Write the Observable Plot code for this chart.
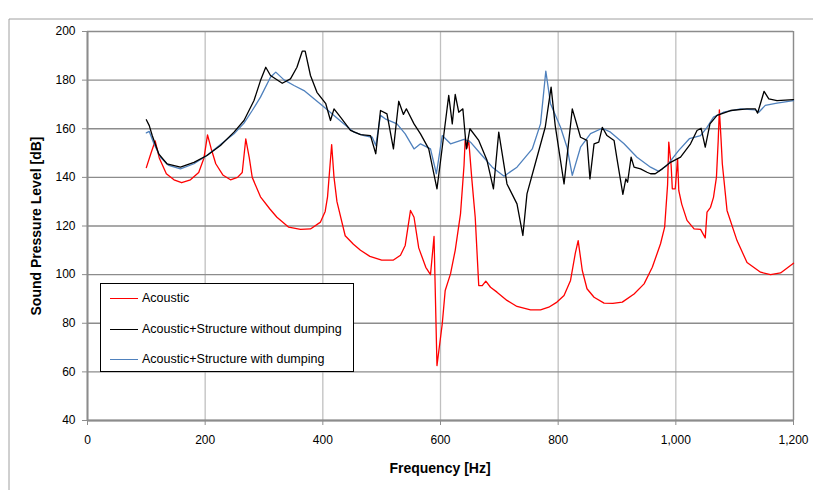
<!DOCTYPE html>
<html>
<head>
<meta charset="utf-8">
<script src="https://cdn.jsdelivr.net/npm/d3@7"></script>
<script src="https://cdn.jsdelivr.net/npm/@observablehq/plot@0.6"></script>
<style>
  html, body { margin: 0; padding: 0; background: #fff; }
  #wrap { position: relative; width: 813px; height: 490px; overflow: hidden; }
  #legend {
    position: absolute; left: 100px; top: 283px; width: 254px; height: 89px;
    border: 1px solid #000; background: #fff; box-sizing: border-box;
    font-family: "Liberation Sans Narrow", "Liberation Sans", Arial, sans-serif; font-size: 12.5px; color: #000;
  }
  .item { position: absolute; left: 9px; height: 16px; display: flex; align-items: center; white-space: nowrap; }
  .sw { width: 28px; height: 0; border-top: 1.5px solid; margin-right: 4px; }
</style>
</head>
<body>
<div id="wrap"></div>
<script>
const xTicks = [0, 200, 400, 600, 800, 1000, 1200];
const yTicks = [40, 60, 80, 100, 120, 140, 160, 180, 200];
const seriesNames = ["Acoustic", "Acoustic+Structure without dumping", "Acoustic+Structure with dumping"];
const seriesColors = ["#ff0000", "#000000", "#4f81bd"];

const acousticFreq = [100,108,115,122,134,147,160,175,189,198,204,210,218,230,243,255,263,269,275,280,294,310,322,342,362,379,396,404,408,415,419,424,438,452,464,480,500,520,532,540,549,555,563,575,583,589,594,603,608,617,625,634,640,642,645,648,653,657,659,665,671,677,685,696,713,730,753,770,784,798,810,821,829,834,841,849,861,878,893,909,929,946,960,974,981,986,988,992,994,999,1003,1005,1010,1019,1031,1042,1050,1053,1059,1064,1069,1072,1074,1077,1079,1087,1104,1121,1144,1161,1178,1200];
const acousticDb = [144,150,155,148,141.5,139,137.8,139,142,148,157.5,152,145.6,141,139,140,142,155.8,148,140,132,127,123.6,119.5,118.6,118.8,121.6,126,132,153.5,140,130,116,112.5,110,107.5,106,106,108,112,126.4,123.6,111,103,100,115.7,62.6,79.8,93.5,100.3,110,125,145,155.9,152,155.2,140,129,123.6,95.5,95.5,97.3,94.8,92.8,89.4,86.9,85.5,85.5,86.6,88.7,91.4,97.6,108.6,114,101.7,94.2,90.7,88.3,88.2,88.7,92,96.2,103,112.7,119.5,137,154.5,145,135.3,135.3,147.6,134.6,129,122.3,118.8,118.6,115.1,125.7,127.7,131.8,140,155,167.8,155,145.6,126.4,114,105,101,100,100.7,104.7];

const noDampFreq = [100,105,110,121,135,158,181,203,226,249,266,283,294,303,311,331,345,356,365,370,379,390,405,413,419,430,447,464,481,490,498,509,520,529,537,542,555,566,580,594,603,614,620,625,631,638,644,650,665,679,690,699,713,730,740,747,761,778,788,795,810,824,838,849,854,861,869,875,883,895,900,910,915,918,924,929,940,951,957,965,977,991,1008,1025,1036,1043,1050,1058,1070,1093,1121,1135,1139,1150,1158,1172,1200];
const noDampDb = [163.7,161.3,157.2,149.7,145.6,144.2,146.2,149,153.1,158.6,163.4,171.6,179.8,185.3,181.9,178.7,180.5,185.3,191.9,191.9,181.9,175,170.3,163.4,168.2,164.8,159.3,157.6,157.2,149.7,167.5,166.1,151.7,171.3,165.9,168.2,162,157.9,151.7,135.3,152.4,173.7,162,174.1,166.8,168.2,151.7,160,155.2,147,135.3,158.6,137.3,129.1,116.1,133.2,145.6,160.6,177.1,161.3,137.3,168.2,156.5,155.2,139.4,153.8,154.5,160.6,157.2,155.2,147.6,133,139.4,138,148.3,144.2,143.5,142.1,141.5,141.5,143.5,146.2,148.3,153.8,159.3,160.2,152.4,162,165.5,167.5,168.2,168.2,166.4,175.4,172.3,171.6,172];

const dampFreq = [100,105,113,124,138,158,181,203,226,249,266,280,294,311,320,334,351,368,385,402,419,436,453,470,484,490,498,506,526,540,555,566,583,593,603,617,640,651,668,688,708,730,756,770,779,787,804,815,824,838,855,875,889,912,934,957,971,985,1005,1023,1042,1053,1064,1081,1110,1135,1141,1152,1172,1200];
const dampDb = [158.3,158.9,153.8,148.3,144.9,143.5,145.6,149,153.5,157.9,162.3,167.5,173,181.2,183.3,180.1,177.8,175.7,172.3,168.9,165.5,162,158.6,157.2,156.5,153.1,165.5,164.1,162,157.9,151.7,153.8,151.7,141.5,157.2,153.8,155.6,154.5,149.7,144.2,140.5,144.2,151.7,162,183.7,170.3,160.6,152.4,140.8,152.4,158,160.2,158.6,153.8,148.3,144.2,142.5,144.9,151.1,155.9,157.2,160.6,164.8,166.8,168.2,167.8,166.8,169.6,170.5,171.6];

const toRows = (f, v) => f.map((x, i) => ({f: x, db: v[i]}));
const acoustic = toRows(acousticFreq, acousticDb);
const noDamp = toRows(noDampFreq, noDampDb);
const damp = toRows(dampFreq, dampDb);

const font = "'Liberation Sans Narrow', 'Liberation Sans', Arial, sans-serif";

const chart = Plot.plot({
  width: 813, height: 490,
  marginLeft: 87, marginRight: 20, marginTop: 31, marginBottom: 70,
  style: {fontFamily: font, fontSize: "12px", background: "#fff", color: "#000"},
  x: {domain: [0, 1200]},
  y: {domain: [40, 200]},
  marks: [
    Plot.gridX(xTicks, {stroke: "#c0c0c0", strokeOpacity: 1, strokeWidth: 1.3}),
    Plot.gridY(yTicks, {stroke: "#8c8c8c", strokeOpacity: 1, strokeWidth: 1.3}),
    Plot.ruleX([1200], {stroke: "#8c8c8c", strokeWidth: 1.3}),
    Plot.axisX(xTicks, {tickSize: 5, tickPadding: 10, tickFormat: d3.format(","), stroke: "#8c8c8c", label: null, fontSize: 12}),
    Plot.axisY(yTicks, {tickSize: 5, tickPadding: 7, stroke: "#8c8c8c", label: null, fontSize: 12}),
    Plot.ruleX([0], {stroke: "#8c8c8c", strokeWidth: 2}),
    Plot.ruleY([40], {stroke: "#8c8c8c", strokeWidth: 2}),
    Plot.line(acoustic, {x: "f", y: "db", stroke: seriesColors[0], strokeWidth: 1.3}),
    Plot.line(damp, {x: "f", y: "db", stroke: seriesColors[2], strokeWidth: 1.3}),
    Plot.line(noDamp, {x: "f", y: "db", stroke: seriesColors[1], strokeWidth: 1.3})
  ]
});

const svg = d3.select(chart);
svg.append("line").attr("x1", 9).attr("x2", 813).attr("y1", 19).attr("y2", 19).attr("stroke", "#a0a0a0");
svg.append("line").attr("x1", 9).attr("x2", 9).attr("y1", 19).attr("y2", 490).attr("stroke", "#a0a0a0");
svg.append("text").attr("x", 440).attr("y", 473).attr("text-anchor", "middle")
  .attr("font-weight", "bold").attr("font-size", 14).attr("font-family", font).text("Frequency [Hz]");
svg.append("text").attr("transform", "translate(41,226) rotate(-90)").attr("text-anchor", "middle")
  .attr("font-weight", "bold").attr("font-size", 14).attr("font-family", font).text("Sound Pressure Level [dB]");

const wrap = document.getElementById("wrap");
wrap.appendChild(chart);
const legend = document.createElement("div");
legend.id = "legend";
const tops = [6, 37, 67];
seriesNames.forEach((n, i) => {
  const it = document.createElement("div");
  it.className = "item";
  it.style.top = tops[i] + "px";
  const sw = document.createElement("span");
  sw.className = "sw";
  sw.style.borderTopColor = seriesColors[i];
  const t = document.createElement("span");
  t.textContent = n;
  it.appendChild(sw); it.appendChild(t);
  legend.appendChild(it);
});
wrap.appendChild(legend);
</script>
</body>
</html>
